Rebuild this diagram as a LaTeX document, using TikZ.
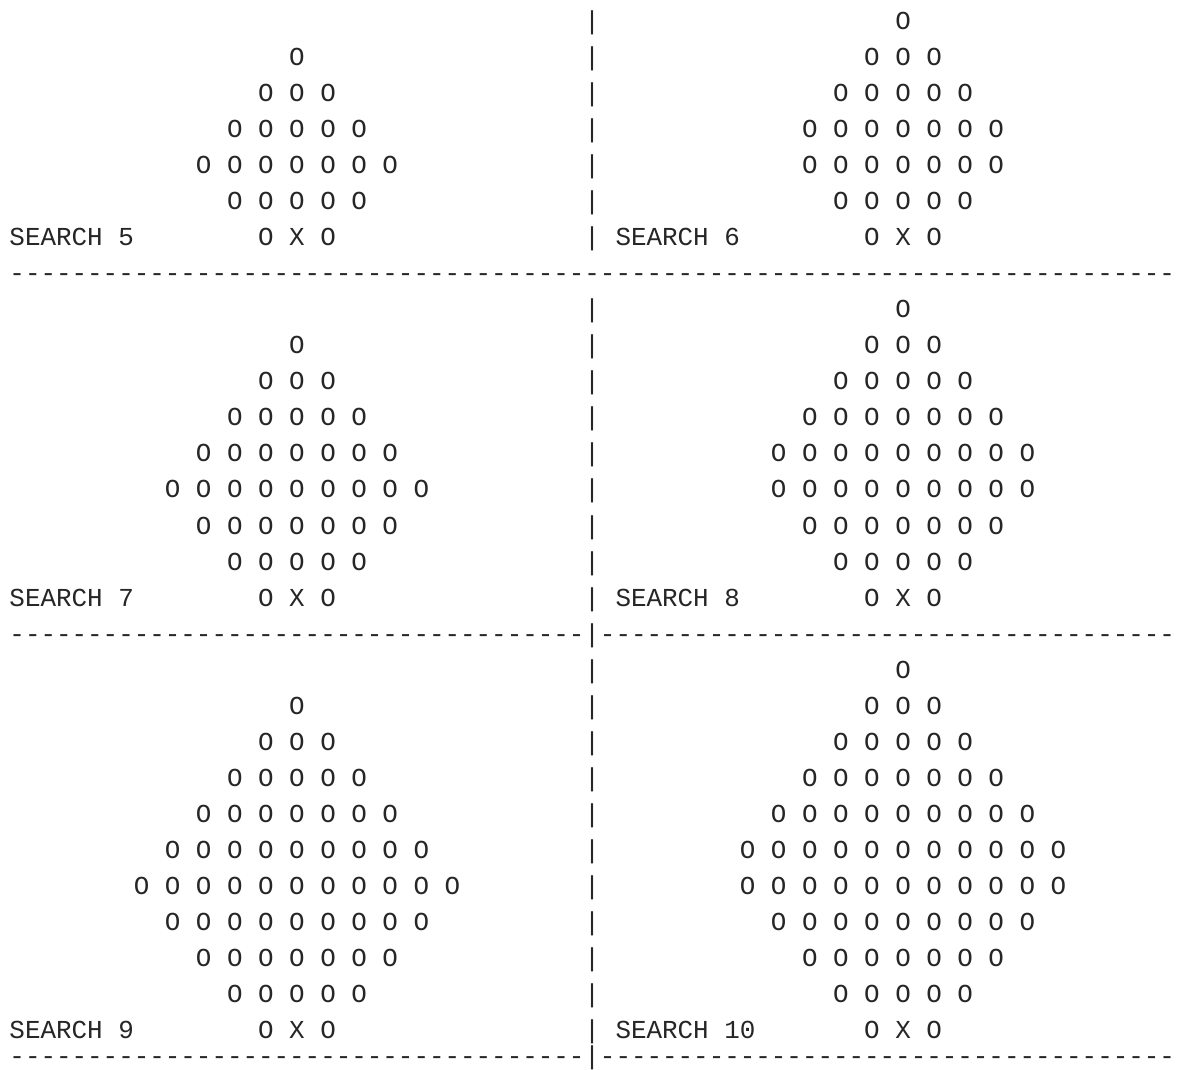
\documentclass[tikz,border=0pt]{standalone}
\usepackage{fontspec}
\newfontfamily\monofam{Liberation Mono}
\newcommand\orow[1]{\ifcase#1\or O\or\or O O O\or\or O O O O O\or\or O O O O O O O\or\or O O O O O O O O O\or\or O O O O O O O O O O O\fi}
\tikzset{
  txt/.style={anchor=base west, inner sep=0pt, outer sep=0pt, text=black!85,
    font=\monofam\fontsize{25.9pt}{30pt}\selectfont},
}
\begin{document}
\begin{tikzpicture}[x=15.54pt, y=-36.05pt]
\useasboundingbox[fill=white] (-0.611,0.187) rectangle (75.26,29.865);
% vertical bars
\foreach \k in {1,...,7,9,10,...,17,19,20,...,29} {
  \node[txt] (bar\k) at (37,\k) {|};
}
% separator lines
\node[txt] (sepA) at (0,8) {---------------------------------------------------------------------------};
\node[txt] (sepB) at (0,18) {-------------------------------------|-------------------------------------};
\node[txt] (sepC) at (0,29.72) {-------------------------------------|-------------------------------------};
% block 1 left: SEARCH 5
\foreach \k/\n in {2/1,3/3,4/5,5/7,6/5} {
  \node[txt] (lA\k) at ({19-\n},\k) {\orow{\n}};
}
\node[txt] (labA) at (0,7) {SEARCH 5};
\node[txt] (oxoA) at (16,7) {O X O};
% block 1 right: SEARCH 6
\foreach \k/\n in {1/1,2/3,3/5,4/7,5/7,6/5} {
  \node[txt] (rA\k) at ({58-\n},\k) {\orow{\n}};
}
\node[txt] (labB) at (39,7) {SEARCH 6};
\node[txt] (oxoB) at (55,7) {O X O};
% block 2 left: SEARCH 7
\foreach \k/\n in {10/1,11/3,12/5,13/7,14/9,15/7,16/5} {
  \node[txt] (lB\k) at ({19-\n},\k) {\orow{\n}};
}
\node[txt] (labC) at (0,17) {SEARCH 7};
\node[txt] (oxoC) at (16,17) {O X O};
% block 2 right: SEARCH 8
\foreach \k/\n in {9/1,10/3,11/5,12/7,13/9,14/9,15/7,16/5} {
  \node[txt] (rB\k) at ({58-\n},\k) {\orow{\n}};
}
\node[txt] (labD) at (39,17) {SEARCH 8};
\node[txt] (oxoD) at (55,17) {O X O};
% block 3 left: SEARCH 9
\foreach \k/\n in {20/1,21/3,22/5,23/7,24/9,25/11,26/9,27/7,28/5} {
  \node[txt] (lC\k) at ({19-\n},\k) {\orow{\n}};
}
\node[txt] (labE) at (0,29) {SEARCH 9};
\node[txt] (oxoE) at (16,29) {O X O};
% block 3 right: SEARCH 10
\foreach \k/\n in {19/1,20/3,21/5,22/7,23/9,24/11,25/11,26/9,27/7,28/5} {
  \node[txt] (rC\k) at ({58-\n},\k) {\orow{\n}};
}
\node[txt] (labF) at (39,29) {SEARCH 10};
\node[txt] (oxoF) at (55,29) {O X O};
\end{tikzpicture}
\end{document}
